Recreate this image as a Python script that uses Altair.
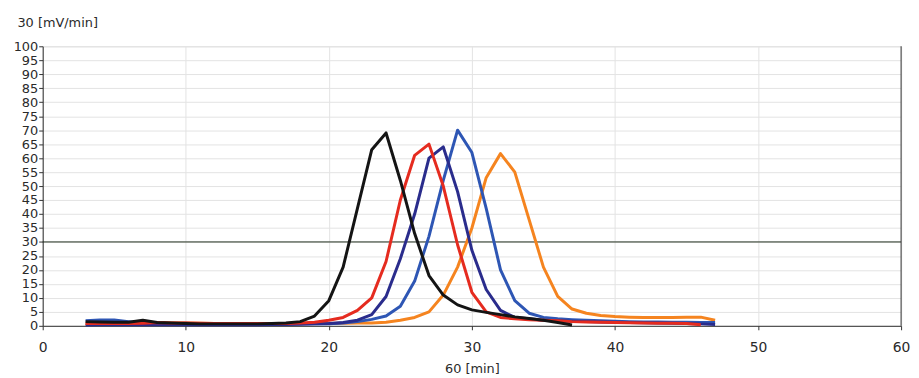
import altair as alt
import pandas as pd

# ---- data ----
black_x = list(range(3, 38))
black_y = [1.5, 1.4, 1.3, 1.3, 2.0, 1.2, 1.0, 0.8, 0.7, 0.7, 0.7, 0.7, 0.7, 0.8, 1.0,
           1.5, 3.5, 9, 21, 42, 63, 69, 52, 33, 18, 11, 7.5, 5.7, 4.8, 4.0, 3.2, 2.6, 2.0, 1.2, 0.3]

red_x = list(range(3, 47))
red_y = [0.8, 0.8, 0.8, 0.8, 0.9, 1.2, 1.0, 1.0, 0.9, 0.8, 0.8, 0.8, 0.8, 0.8, 0.8,
         1.0, 1.3, 2.0, 3.0, 5.5, 10, 23, 45, 61, 65, 50, 29, 12, 5, 3, 2.5, 2.2, 2.0, 1.8,
         1.5, 1.4, 1.3, 1.2, 1.1, 1.0, 0.9, 0.9, 0.8, 0.4]

navy_x = list(range(3, 48))
navy_y = [0.3, 0.4, 0.4, 0.4, 0.5, 0.4, 0.4, 0.4, 0.4, 0.4, 0.4, 0.4, 0.4, 0.5, 0.5,
          0.6, 0.7, 0.8, 1.2, 2.0, 4.0, 10.5, 24, 40, 60, 64, 48, 27, 13, 5.5, 3.0, 2.5,
          2.0, 1.8, 1.6, 1.5, 1.4, 1.3, 1.2, 1.1, 1.0, 0.9, 0.8, 0.7, 0.5]

blue_x = list(range(3, 48))
blue_y = [1.8, 2.1, 2.1, 1.5, 1.0, 0.8, 0.7, 0.9, 0.7, 0.7, 0.7, 0.7, 0.7, 0.7, 0.7,
          0.7, 0.7, 0.7, 1.0, 1.5, 2.3, 3.5, 7, 16, 32, 52, 70, 62, 42, 20, 9, 4.5, 3.0,
          2.5, 2.2, 2.0, 1.8, 1.6, 1.5, 1.4, 1.4, 1.3, 1.3, 1.2, 1.2]

orange_x = list(range(3, 48))
orange_y = [0.6, 0.6, 0.6, 0.7, 0.8, 1.2, 1.0, 1.0, 0.9, 0.8, 0.8, 0.8, 0.8, 0.8, 0.8,
            0.8, 0.8, 0.8, 0.9, 1.0, 1.0, 1.3, 2.0, 3.0, 5.0, 11, 21, 35, 53, 61.6, 55, 38,
            21, 10.5, 6.0, 4.5, 3.7, 3.3, 3.1, 3.0, 3.0, 3.0, 3.1, 3.1, 2.0]

# reference line at 30 and the right frame line at x = 60
ref_x = [0, 60]
ref_y = [30, 30]
edge_x = [60, 60]
edge_y = [0, 100]

series_names = ["ref", "edge", "orange", "blue", "navy", "red", "black"]
series_colors = ["#1f2e1c", "#333333", "#f5841f", "#2e56b4", "#2a2c8c", "#e52b1f", "#141414"]
series_widths = [1, 1, 3, 3, 3, 3, 3]

x_ticks = [0, 10, 20, 30, 40, 50, 60]
y_ticks = list(range(0, 101, 5))

rows = []
for k, (name, xs, ys) in enumerate([("ref", ref_x, ref_y), ("edge", edge_x, edge_y),
                                    ("orange", orange_x, orange_y), ("blue", blue_x, blue_y),
                                    ("navy", navy_x, navy_y), ("red", red_x, red_y),
                                    ("black", black_x, black_y)]):
    for i, (a, b) in enumerate(zip(xs, ys)):
        rows.append({"s": name, "x": a, "y": b, "i": i, "w": series_widths[k]})
df = pd.DataFrame(rows)

FONT = "DejaVu Sans"
TXT = "#2a2a2a"

x_axis = alt.Axis(values=x_ticks, title="60 [min]", grid=True, gridColor="#e3e3e3",
                  domainColor="#333333", tickColor="#333333", tickSize=4,
                  labelPadding=11, labelFont=FONT, labelFontSize=14, labelColor=TXT,
                  titleFont=FONT, titleFontSize=13, titleFontWeight="normal",
                  titleColor=TXT, titlePadding=8, labelFlush=False, labelOverlap=False)
y_axis = alt.Axis(values=y_ticks, title="30 [mV/min]", grid=True, gridColor="#e3e3e3",
                  domainColor="#333333", tickColor="#333333", tickSize=4,
                  labelPadding=1, labelFont=FONT, labelFontSize=13, labelColor=TXT,
                  labelOverlap=False, labelFlush=False, labelBaseline="middle",
                  titleFont=FONT, titleFontSize=13, titleFontWeight="normal",
                  titleColor=TXT, titleAngle=0, titleAlign="left",
                  titleBaseline="middle", titleX=-26, titleY=-24)

chart = alt.Chart(df).mark_line(strokeJoin="round", strokeCap="butt").encode(
    x=alt.X("x:Q", scale=alt.Scale(domain=[0, 60], nice=False, zero=False), axis=x_axis),
    y=alt.Y("y:Q", scale=alt.Scale(domain=[0, 100], nice=False), axis=y_axis),
    color=alt.Color("s:N", scale=alt.Scale(domain=series_names, range=series_colors),
                    legend=None),
    strokeWidth=alt.StrokeWidth("w:Q", scale=None, legend=None),
    detail="s:N",
    order="i:Q",
).properties(
    width=866, height=282,
    autosize=alt.AutoSizeParams(type="none"),
    padding={"left": 35, "top": 37, "right": 10, "bottom": 50},
).configure_view(stroke=None).configure(background="white")

chart.save("out.html", embed_options={"renderer": "svg", "actions": False})
